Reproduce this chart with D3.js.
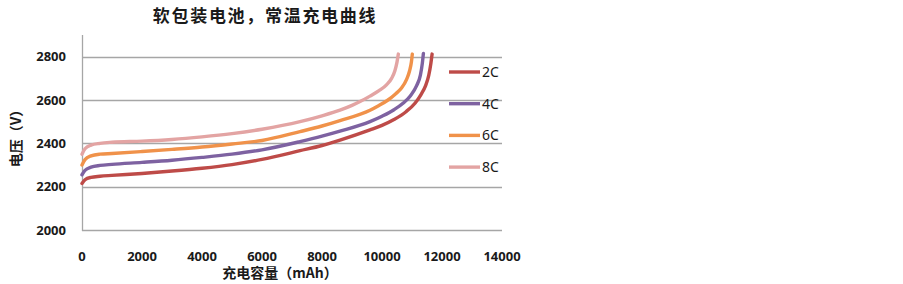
<!DOCTYPE html>
<html>
<head>
<meta charset="utf-8">
<script src="https://cdn.jsdelivr.net/npm/d3@7"></script>
<style>
  body { margin: 0; background: #fff; }
  svg { display: block; }
</style>
</head>
<body>
<div id="chart"></div>
<script>
const width = 903;
const height = 284;

// capacity (mAh) / voltage pairs
const cap2C = [0, 100, 300, 600, 1000, 2000, 3000, 4000, 5000, 6000, 7267, 8000, 8600, 9600, 10000, 10400, 10800, 11100, 11300, 11450, 11560, 11630, 11670];
const volt2C = [2215, 2232, 2243, 2248, 2252, 2261, 2272, 2285, 2302, 2326, 2366, 2390, 2415, 2462, 2483, 2510, 2546, 2585, 2625, 2665, 2715, 2770, 2812];

const cap4C = [0, 100, 300, 600, 1000, 2000, 3000, 4000, 5000, 6000, 7267, 8000, 8600, 9600, 10000, 10400, 10700, 10950, 11150, 11280, 11345, 11380];
const volt4C = [2255, 2275, 2290, 2298, 2303, 2312, 2322, 2335, 2350, 2370, 2408, 2433, 2456, 2500, 2525, 2555, 2585, 2620, 2665, 2715, 2770, 2815];

const cap6C = [0, 100, 300, 600, 1000, 2000, 3000, 4000, 5000, 6000, 7267, 8000, 8600, 9600, 9900, 10200, 10450, 10650, 10820, 10920, 10980, 11010];
const volt6C = [2300, 2325, 2342, 2350, 2353, 2362, 2372, 2383, 2397, 2413, 2454, 2480, 2505, 2553, 2575, 2600, 2628, 2655, 2695, 2735, 2775, 2812];

const cap8C = [0, 100, 300, 600, 1000, 2000, 3000, 4000, 5000, 6000, 7267, 8000, 8600, 9000, 9300, 9600, 9900, 10150, 10320, 10430, 10500, 10545];
const volt8C = [2350, 2375, 2392, 2400, 2405, 2410, 2418, 2430, 2445, 2465, 2500, 2527, 2553, 2575, 2595, 2618, 2643, 2670, 2700, 2735, 2775, 2812];

const seriesNames = ["2C", "4C", "6C", "8C"];
const seriesColors = ["#BE4B48", "#7E62A1", "#F0924A", "#E3A4A3"];
const xTicks = [0, 2000, 4000, 6000, 8000, 10000, 12000, 14000];
const yTicks = [2000, 2200, 2400, 2600, 2800];

const series = [
    { name: seriesNames[0], caps: cap2C, volts: volt2C },
    { name: seriesNames[1], caps: cap4C, volts: volt4C },
    { name: seriesNames[2], caps: cap6C, volts: volt6C },
    { name: seriesNames[3], caps: cap8C, volts: volt8C }
];

const svg = d3.select("#chart")
    .append("svg")
    .attr("width", width)
    .attr("height", height);

const x = d3.scaleLinear().domain([0, 14000]).range([82, 502]);
const y = d3.scaleLinear().domain([2000, 2900]).range([230, 35]);

const numFont = "'Noto Sans', 'DejaVu Sans', sans-serif";
const cjkFont = "'Noto Sans CJK SC', sans-serif";

// gridlines
svg.append("g")
    .selectAll("line")
    .data(yTicks)
    .enter().append("line")
    .attr("x1", x(0))
    .attr("x2", x(14000))
    .attr("y1", d => Math.round(y(d)) + 0.5)
    .attr("y2", d => Math.round(y(d)) + 0.5)
    .attr("stroke", "#a6a6a6")
    .attr("stroke-width", 1.3);

// left axis line
svg.append("line")
    .attr("x1", x(0) + 0.5)
    .attr("x2", x(0) + 0.5)
    .attr("y1", y(2900))
    .attr("y2", y(2000) + 1)
    .attr("stroke", "#a6a6a6")
    .attr("stroke-width", 1.3);

// y tick labels
svg.append("g")
    .selectAll("text")
    .data(yTicks)
    .enter().append("text")
    .attr("x", 66)
    .attr("y", d => y(d))
    .attr("dy", "0.36em")
    .attr("text-anchor", "end")
    .attr("font-family", numFont)
    .attr("font-weight", "bold")
    .attr("font-size", 13)
    .attr("fill", "#1a1a1a")
    .text(d => d);

// x tick labels
svg.append("g")
    .selectAll("text")
    .data(xTicks)
    .enter().append("text")
    .attr("x", d => x(d))
    .attr("y", 261)
    .attr("text-anchor", "middle")
    .attr("font-family", numFont)
    .attr("font-weight", "bold")
    .attr("font-size", 13)
    .attr("fill", "#1a1a1a")
    .text(d => d);

// curves
const line = d3.line()
    .x(d => x(d[0]))
    .y(d => y(d[1]))
    .curve(d3.curveMonotoneX);

svg.append("g")
    .selectAll("path")
    .data(series)
    .enter().append("path")
    .attr("d", s => line(d3.zip(s.caps, s.volts)))
    .attr("fill", "none")
    .attr("stroke", (s, i) => seriesColors[i])
    .attr("stroke-width", 3.4)
    .attr("stroke-linejoin", "round")
    .attr("stroke-linecap", "round");

// legend
const legend = svg.append("g")
    .selectAll("g")
    .data(series)
    .enter().append("g")
    .attr("transform", (s, i) => `translate(449,${72 + i * 31.7})`);

legend.append("line")
    .attr("x1", 0)
    .attr("x2", 31)
    .attr("stroke", (s, i) => seriesColors[i])
    .attr("stroke-width", 3.4);

legend.append("text")
    .attr("x", 33)
    .attr("dy", "0.36em")
    .attr("font-family", numFont)
    .attr("font-size", 14)
    .attr("fill", "#1a1a1a")
    .text(s => s.name);

// titles
svg.append("text")
    .attr("x", 265)
    .attr("y", 22)
    .attr("text-anchor", "middle")
    .attr("font-family", cjkFont)
    .attr("font-weight", "bold")
    .attr("font-size", 17)
    .attr("letter-spacing", 1.7)
    .attr("fill", "#1a1a1a")
    .text("软包装电池，常温充电曲线");

svg.append("text")
    .attr("x", 280)
    .attr("y", 278)
    .attr("text-anchor", "middle")
    .attr("font-family", cjkFont)
    .attr("font-weight", "bold")
    .attr("font-size", 14)
    .attr("fill", "#1a1a1a")
    .text("充电容量（mAh）");

svg.append("text")
    .attr("transform", "translate(21,135) rotate(-90)")
    .attr("text-anchor", "middle")
    .attr("font-family", cjkFont)
    .attr("font-weight", "bold")
    .attr("font-size", 14)
    .attr("fill", "#1a1a1a")
    .text("电压（V）");
</script>
</body>
</html>
